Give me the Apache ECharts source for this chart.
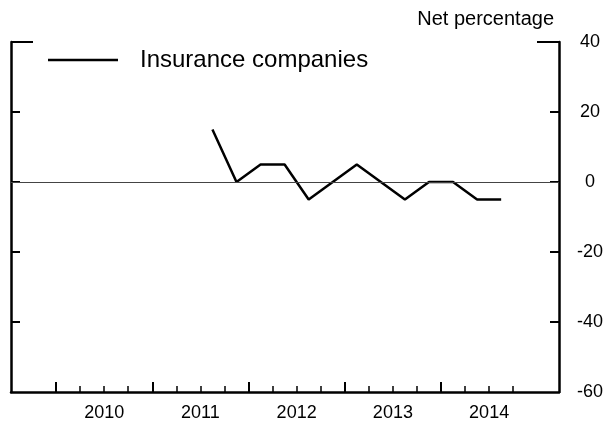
<!DOCTYPE html>
<html>
<head>
<meta charset="utf-8">
<script src="https://cdn.jsdelivr.net/npm/echarts@6/dist/echarts.min.js"></script>
<style>
  html, body { margin: 0; padding: 0; background: #fff; }
  #chart { width: 603px; height: 430px; }
</style>
</head>
<body>
<div id="chart"></div>
<script>
// survey quarters and net percentage
var quarters = ['2011Q3', '2011Q4', '2012Q1', '2012Q2', '2012Q3', '2012Q4', '2013Q1',
                '2013Q2', '2013Q3', '2013Q4', '2014Q1', '2014Q2', '2014Q3'];
var insurance = [15, 0, 5, 5, -5, 0, 5, 0, -5, 0, 0, -5, -5];
var years = [2010, 2011, 2012, 2013, 2014];
var yTicks = [-40, -20, 0, 20];

// quarter -> decimal year at middle of the quarter
function qToNum(q) {
    return +q.slice(0, 4) + (+q.slice(5) - 0.5) / 4;
}

var majorTicks = years.slice();
var minorTicks = [];
years.forEach(function (y) { minorTicks.push(y + 0.25, y + 0.5, y + 0.75); });
var yearLabels = years.map(function (y) { return y + 0.5; });

var font = 'Liberation Sans, Arial, sans-serif';
var xMin = 2009.532, xMax = 2015.226;

var chart = echarts.init(document.getElementById('chart'));

function yAx(pos, ticks, len, showLine, showLabel) {
    return {
        type: 'value', position: pos, min: -60, max: 40, interval: 20,
        axisLine: { show: showLine, onZero: false, lineStyle: { color: '#000', width: 2.5 } },
        axisTick: { show: true, inside: true, length: len, customValues: ticks,
                    lineStyle: { color: '#000', width: 2 } },
        axisLabel: { show: showLabel, margin: 31, align: 'center', color: '#000',
                     fontSize: 18, fontFamily: font },
        splitLine: { show: false }
    };
}

var option = {
    animation: false,
    backgroundColor: '#fff',
    grid: { left: 11, right: 44, top: 42, bottom: 38, outerBoundsMode: 'none', containLabel: false },
    title: {
        text: 'Net percentage', right: 44, top: 4,
        textStyle: { fontSize: 20, fontWeight: 'normal', color: '#000', fontFamily: font }
    },
    legend: {
        left: 48, top: 48, padding: 0,
        itemWidth: 70, itemHeight: 2.5,
        textStyle: { fontSize: 24, color: '#000', fontFamily: font, padding: [0, 0, 0, 17] },
        data: [{ name: 'Insurance companies', icon: 'rect' }]
    },
    xAxis: [{
        type: 'value', position: 'bottom', min: xMin, max: xMax,
        axisLine: { show: true, onZero: false, lineStyle: { color: '#000', width: 2.5 } },
        axisTick: { show: true, inside: true, length: 10, customValues: majorTicks,
                    lineStyle: { color: '#000', width: 2 } },
        axisLabel: { show: true, customValues: yearLabels, margin: 12, color: '#000',
                     fontSize: 18, fontFamily: font,
                     formatter: function (v) { return String(Math.floor(v)); } },
        splitLine: { show: false }
    }, {
        type: 'value', position: 'bottom', min: xMin, max: xMax,
        axisLine: { show: false, onZero: false },
        axisTick: { show: true, inside: true, length: 6, customValues: minorTicks,
                    lineStyle: { color: '#000', width: 1.5 } },
        axisLabel: { show: false },
        splitLine: { show: false }
    }],
    yAxis: [
        yAx('right', yTicks, 9, true, true),
        yAx('right', [40], 22, false, false),
        yAx('left', yTicks, 9, true, false),
        yAx('left', [40], 22, false, false)
    ],
    series: [{
        name: 'Insurance companies',
        type: 'line',
        xAxisIndex: 0, yAxisIndex: 0,
        symbol: 'none',
        lineStyle: { color: '#000', width: 2.5 },
        itemStyle: { color: '#000' },
        data: quarters.map(function (q, i) { return [qToNum(q), insurance[i]]; }),
        markLine: {
            silent: true, symbol: 'none', label: { show: false },
            lineStyle: { color: '#444', width: 1, type: 'solid' },
            data: [{ yAxis: 0 }]
        },
        z: 3
    }]
};
chart.setOption(option);
</script>
</body>
</html>
